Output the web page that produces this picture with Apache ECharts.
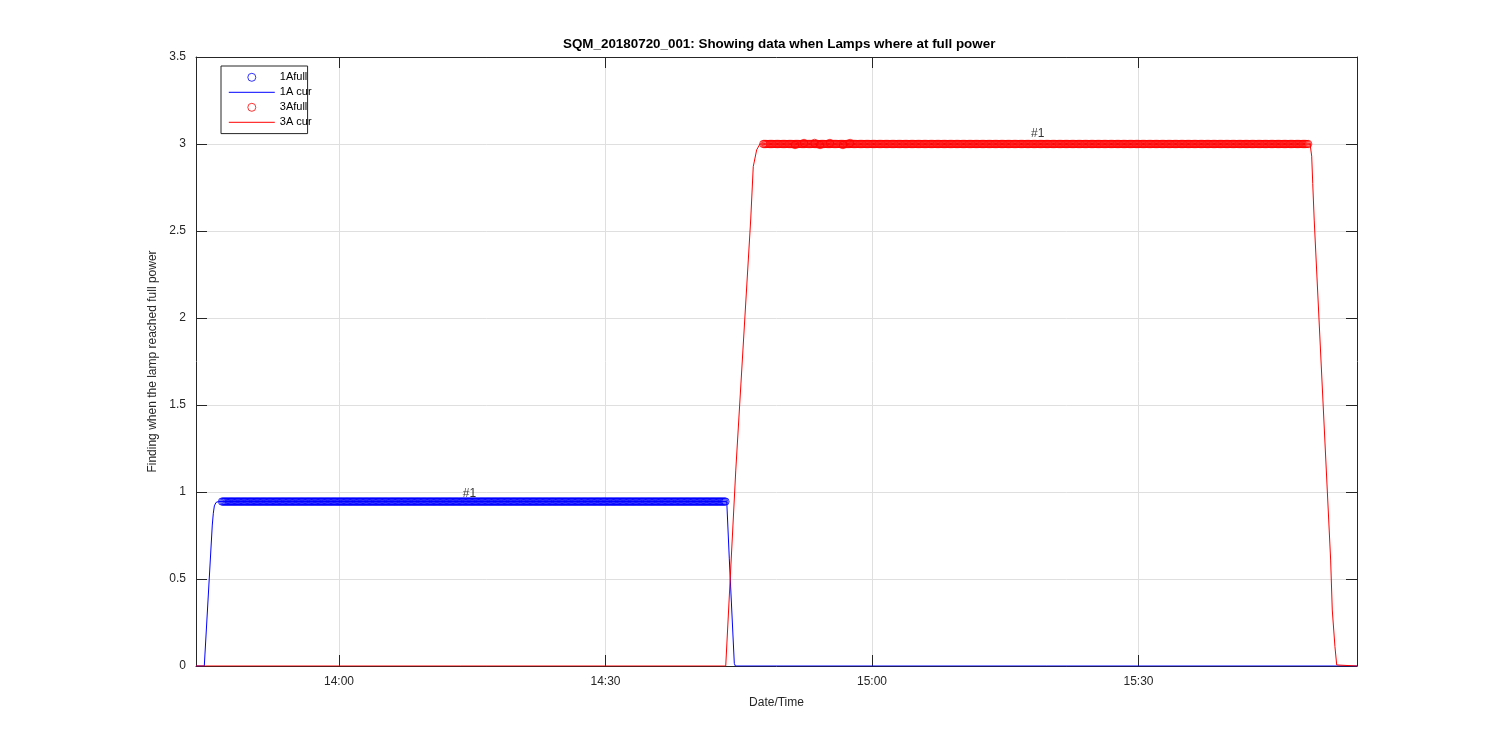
<!DOCTYPE html>
<html><head><meta charset="utf-8">
<script src="https://cdn.jsdelivr.net/npm/echarts@6/dist/echarts.min.js"></script>
<style>html,body{margin:0;padding:0;background:#fff}#c{width:1500px;height:750px}</style>
</head><body><div id="c"></div>
<script>
// ---- data ----
const DAY = [2018, 6, 20];
const xRange = ["13:43:54", "15:54:36"];
const xTickLabels = ["14:00", "14:30", "15:00", "15:30"];
const yRange = [0, 3.5];
const yTickStep = 0.5;
const seriesNames = ["1Afull", "1A cur", "3Afull", "3A cur"];
const cur1A = [["13:43:54",0],["13:44:50",0],["13:45:44",0.81],["13:45:51",0.878],["13:45:58",0.92],["13:46:09",0.94],["13:46:25",0.945],["14:43:39",0.945],["14:43:56",0.62],["14:44:30",0.015],["14:44:37",0],["15:54:36",0]];
const cur3A = [["13:43:54",0],["14:43:32",0],["14:44:40",1.126],["14:46:21",2.569],["14:46:38",2.87],["14:47:01",2.966],["14:47:23",3.0],["15:49:19",3.0],["15:49:30",2.93],["15:49:37",2.774],["15:49:47",2.563],["15:51:38",0.609],["15:51:49",0.322],["15:52:07",0.111],["15:52:19",0.006],["15:52:24",0],["15:54:36",0]];
// full-power samples: logged every logStepSec seconds between these times at this level
const logStepSec = 8;
const full1A = {from: "13:46:50", to: "14:43:30", level: 0.945};
const full3A = {from: "14:47:46", to: "15:49:10", level: 3.0};
const full3AExtra = [["14:51:20",2.994],["14:52:21",3.006],["14:53:32",3.006],["14:54:09",2.994],["14:55:16",3.006],["14:56:44",2.994],["14:57:32",3.006]];
const notes = [["14:13:56",0.99,"#1"],["15:17:54",3.057,"#1"]];
const titleText = "SQM_20180720_001: Showing data when Lamps where at full power";
const xName = "Date/Time";
const yName = "Finding when the lamp reached full power";

// ---- helpers ----
const ts = s => { const p = s.split(':').map(Number); return Date.UTC(DAY[0],DAY[1],DAY[2],p[0],p[1],p[2] || 0); };
const toPts = arr => arr.map(p => [ts(p[0]), p[1]]);
const fullPts = (f, extra) => {
  const out = [];
  for (let t = ts(f.from); t <= ts(f.to); t += logStepSec * 1000) out.push([t, f.level]);
  return out.concat(toPts(extra || []));
};
const pad = n => (n < 10 ? '0' : '') + n;
const fmtTime = v => { const d = new Date(v); return pad(d.getUTCHours()) + ':' + pad(d.getUTCMinutes()); };

const FONT = 'Liberation Sans, Arial, Helvetica, sans-serif';
const AX = '#262626';
const GRIDC = '#dfdfdf';
const BLUE = '#0000ff', RED = '#ff0000';
const xmin = ts(xRange[0]), xmax = ts(xRange[1]);
const xTickVals = xTickLabels.map(ts);

const chart = echarts.init(document.getElementById('c'), null, {renderer: 'canvas'});
chart.setOption({
  animation: false,
  backgroundColor: '#fff',
  textStyle: {fontFamily: FONT},
  title: {
    text: titleText, left: 563, top: 37, padding: 0,
    textStyle: {fontFamily: FONT, fontSize: 13.4, fontWeight: 'bold', color: '#000', lineHeight: 14}
  },
  grid: {left: 196, right: 143, top: 57, bottom: 84, containLabel: false},
  legend: {
    orient: 'vertical', left: 221, top: 66, padding: [3.8, -4, 3.8, 7.3],
    itemWidth: 46, itemHeight: 8, itemGap: 0,
    borderColor: AX, borderWidth: 1, backgroundColor: '#fff',
    selectedMode: false,
    textStyle: {fontFamily: FONT, fontSize: 11, color: '#000', lineHeight: 15},
    data: [
      {name: seriesNames[0], itemStyle: {borderWidth: 1}},
      {name: seriesNames[1], itemStyle: {opacity: 0}, lineStyle: {width: 1}},
      {name: seriesNames[2], itemStyle: {borderWidth: 1}},
      {name: seriesNames[3], itemStyle: {opacity: 0}, lineStyle: {width: 1}}
    ]
  },
  xAxis: [{
    type: 'value', min: xmin, max: xmax, scale: true,
    position: 'bottom',
    axisLine: {show: true, onZero: false, lineStyle: {color: AX, width: 1}},
    axisTick: {show: true, inside: true, length: 11, lineStyle: {color: AX}, customValues: xTickVals},
    axisLabel: {formatter: fmtTime, color: AX, fontSize: 12, fontFamily: FONT, margin: 10, customValues: xTickVals},
    splitLine: {show: true, lineStyle: {color: GRIDC, width: 1}},
    name: xName, nameLocation: 'middle', nameGap: 31,
    nameTextStyle: {color: AX, fontSize: 12, fontFamily: FONT}
  }, {
    type: 'value', min: xmin, max: xmax, scale: true,
    position: 'top',
    axisLine: {show: true, onZero: false, lineStyle: {color: AX, width: 1}},
    axisTick: {show: true, inside: true, length: 11, lineStyle: {color: AX}, customValues: xTickVals},
    axisLabel: {show: false, customValues: xTickVals},
    splitLine: {show: false}
  }],
  yAxis: [{
    type: 'value', min: yRange[0], max: yRange[1], interval: yTickStep,
    position: 'left',
    axisLine: {show: true, onZero: false, lineStyle: {color: AX, width: 1}},
    axisTick: {show: true, inside: true, length: 11, lineStyle: {color: AX}},
    axisLabel: {color: AX, fontSize: 12, fontFamily: FONT, margin: 10},
    splitLine: {show: true, lineStyle: {color: GRIDC, width: 1}},
    name: yName, nameLocation: 'middle', nameGap: 29, nameRotate: 90,
    nameTextStyle: {color: AX, fontSize: 12, fontFamily: FONT}
  }, {
    type: 'value', min: yRange[0], max: yRange[1], interval: yTickStep,
    position: 'right',
    axisLine: {show: true, onZero: false, lineStyle: {color: AX, width: 1}},
    axisTick: {show: true, inside: true, length: 11, lineStyle: {color: AX}},
    axisLabel: {show: false},
    splitLine: {show: false}
  }],
  series: [
    {
      name: seriesNames[0], type: 'scatter', data: fullPts(full1A), symbol: 'circle', symbolSize: 7.4,
      itemStyle: {color: 'transparent', borderColor: BLUE, borderWidth: 1}, z: 3, silent: true
    },
    {
      name: seriesNames[1], type: 'line', data: toPts(cur1A), symbol: 'none', showSymbol: false,
      lineStyle: {color: BLUE, width: 1}, itemStyle: {color: BLUE}, z: 3, silent: true
    },
    {
      name: seriesNames[2], type: 'scatter', data: fullPts(full3A, full3AExtra), symbol: 'circle', symbolSize: 7.4,
      itemStyle: {color: 'transparent', borderColor: RED, borderWidth: 1}, z: 3, silent: true
    },
    {
      name: seriesNames[3], type: 'line', data: toPts(cur3A), symbol: 'none', showSymbol: false,
      lineStyle: {color: RED, width: 1}, itemStyle: {color: RED}, z: 3, silent: true
    },
    {
      name: 'notes', type: 'scatter', symbolSize: 0, z: 4, silent: true,
      data: notes.map(n => ({name: n[2], value: [ts(n[0]), n[1]]})),
      label: {show: true, position: 'right', distance: 0, formatter: '{b}', color: '#000', fontSize: 12, fontFamily: FONT}
    }
  ]
});
</script></body></html>
